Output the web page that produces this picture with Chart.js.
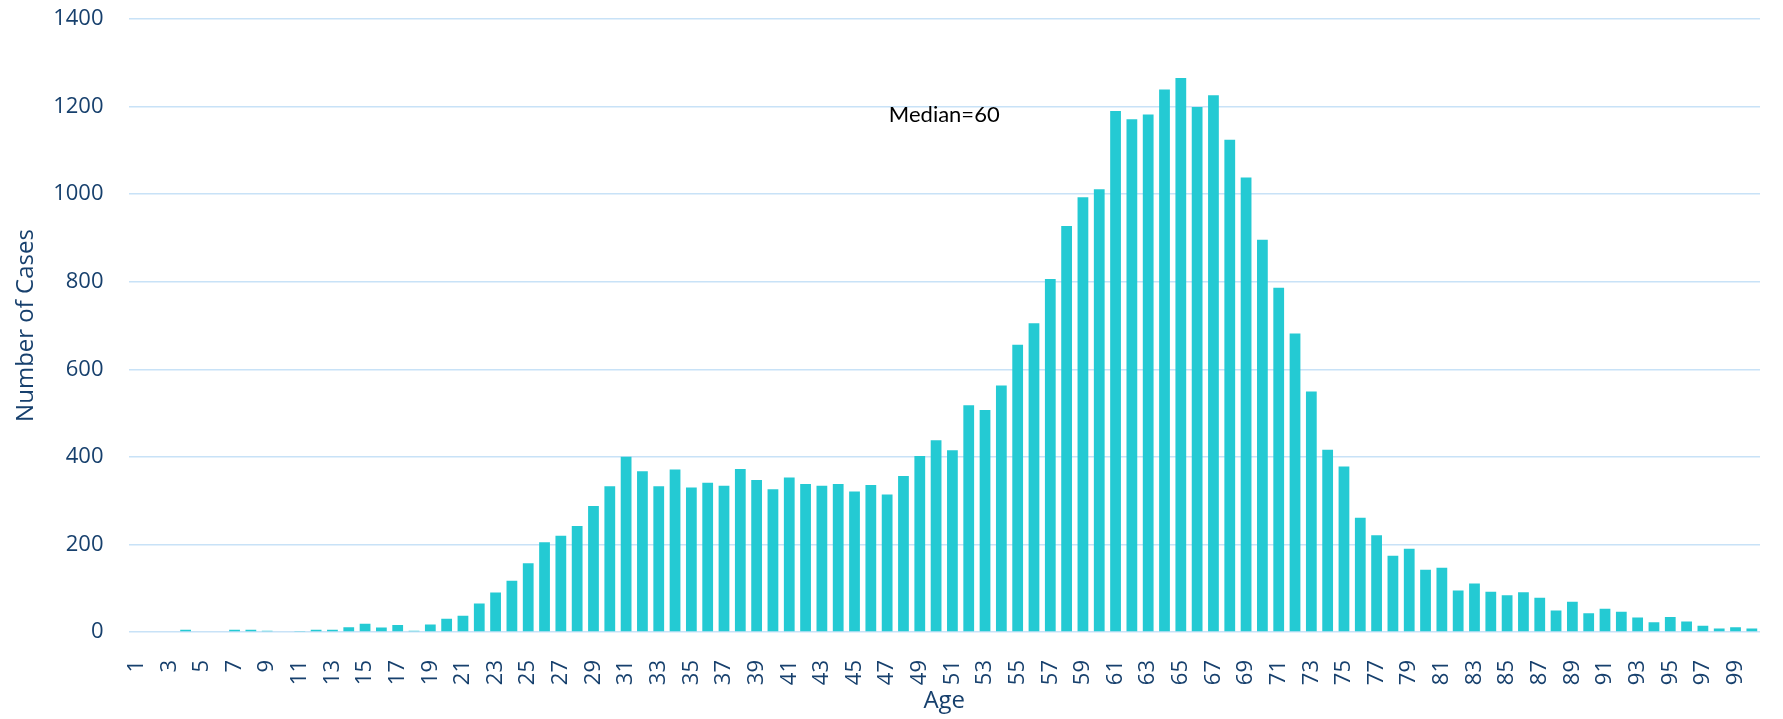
<!DOCTYPE html>
<html>
<head>
<meta charset="utf-8">
<script src="https://cdn.jsdelivr.net/npm/chart.js@4/dist/chart.umd.min.js"></script>
<style>
  html, body { margin: 0; padding: 0; background: #fff; }
  #wrap { width: 1783px; height: 719px; }
</style>
</head>
<body>
<div id="wrap"><canvas id="chart"></canvas></div>
<script>
// ages 1..100
const ages = [
  1, 2, 3, 4, 5, 6, 7, 8, 9, 10,
  11, 12, 13, 14, 15, 16, 17, 18, 19, 20,
  21, 22, 23, 24, 25, 26, 27, 28, 29, 30,
  31, 32, 33, 34, 35, 36, 37, 38, 39, 40,
  41, 42, 43, 44, 45, 46, 47, 48, 49, 50,
  51, 52, 53, 54, 55, 56, 57, 58, 59, 60,
  61, 62, 63, 64, 65, 66, 67, 68, 69, 70,
  71, 72, 73, 74, 75, 76, 77, 78, 79, 80,
  81, 82, 83, 84, 85, 86, 87, 88, 89, 90,
  91, 92, 93, 94, 95, 96, 97, 98, 99, 100
]

const cases = [
  0, 0, 0, 5, 0, 0, 5, 5, 3, 0,
  2, 5, 5, 11, 19, 10, 16, 3, 17, 30,
  37, 65, 90, 117, 157, 205, 220, 242, 288, 333,
  400, 367, 333, 371, 330, 341, 334, 372, 347, 326,
  353, 338, 334, 338, 321, 336, 314, 356, 402, 438,
  415, 518, 507, 563, 656, 705, 806, 927, 993, 1011,
  1190, 1171, 1182, 1239, 1265, 1199, 1226, 1124, 1038, 896,
  786, 682, 549, 416, 378, 261, 221, 174, 190, 142,
  147, 95, 111, 92, 84, 91, 78, 49, 69, 43,
  53, 46, 33, 22, 34, 24, 14, 8, 11, 8
]

const yTicks = [0, 200, 400, 600, 800, 1000, 1200, 1400]
const medianText = 'Median=60'
const medianAge = 50.5
const medianLevel = 1180

const navy = '#17406d'
const gridBlue = '#c8e2f7'

// text note above the bars, placed through the chart scales
const medianNote = {
  id: 'medianNote',
  afterDatasetsDraw(chart) {
    const { ctx, scales } = chart
    const lo = ages.indexOf(Math.floor(medianAge))
    const x = (scales.x.getPixelForValue(lo) + scales.x.getPixelForValue(lo + 1)) / 2
    const y = scales.y.getPixelForValue(medianLevel)
    ctx.save()
    ctx.font = '22px Lato'
    ctx.fillStyle = '#000'
    ctx.textAlign = 'center'
    ctx.textBaseline = 'middle'
    ctx.fillText(medianText, x, y)
    ctx.restore()
  },
}

const ctx = document.getElementById('chart').getContext('2d')
new Chart(ctx, {
  type: 'bar',
  data: {
    labels: ages.map(String),
    datasets: [
      {
        label: 'Number of Cases',
        data: cases,
        backgroundColor: '#24cad3',
        categoryPercentage: 1,
        barPercentage: 0.66,
      },
    ],
  },
  options: {
    responsive: true,
    maintainAspectRatio: false,
    animation: false,
    layout: {
      padding: { top: 19, right: 23, left: 0, bottom: 0 },
    },
    plugins: {
      legend: { display: false },
      tooltip: { enabled: false },
    },
    scales: {
      x: {
        grid: { display: false, drawTicks: true, tickLength: 25, tickColor: 'transparent' },
        border: { display: false },
        ticks: {
          autoSkip: false,
          minRotation: 90,
          maxRotation: 90,
          padding: 3,
          color: navy,
          font: { family: 'Open Sans', size: 22 },
          callback: (v, i) => (i % 2 === 0 ? String(ages[i]) : ''),
        },
        title: {
          display: true,
          text: 'Age',
          color: navy,
          font: { family: 'Open Sans', size: 24 },
          padding: { top: 0, bottom: 3 },
        },
        afterFit: (s) => { s.height = 87 },
      },
      y: {
        min: 0,
        max: 1400,
        afterBuildTicks: (s) => { s.ticks = yTicks.map((v) => ({ value: v })) },
        grid: { color: gridBlue, lineWidth: 1.5, drawTicks: true, tickLength: 22, tickColor: 'transparent' },
        border: { display: false },
        ticks: {
          padding: 3,
          color: navy,
          font: { family: 'Open Sans', size: 22 },
          callback: (v) => String(v),
        },
        title: {
          display: true,
          text: 'Number of Cases',
          color: navy,
          font: { family: 'Open Sans', size: 24 },
          padding: { top: 11.6, bottom: 0 },
        },
        afterFit: (s) => { s.width = 128.5 },
      },
    },
  },
  plugins: [medianNote],
})
</script>
</body>
</html>
